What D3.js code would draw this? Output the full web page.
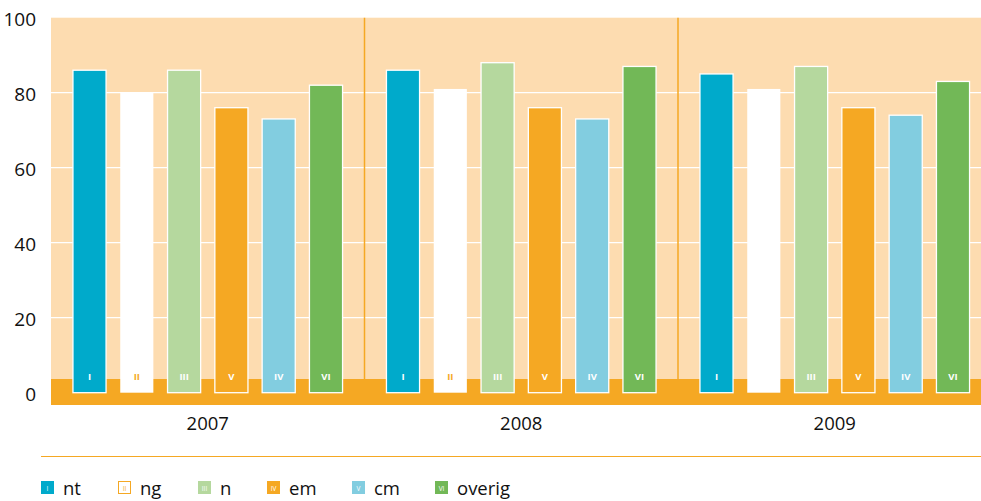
<!DOCTYPE html>
<html><head><meta charset="utf-8">
<script src="https://cdn.jsdelivr.net/npm/d3@7/dist/d3.min.js"></script>
<style>body{margin:0;background:#fff}svg{display:block;font-family:"Open Sans","Noto Sans",sans-serif}</style>
</head><body><svg id="c" width="981" height="501"></svg>
<script>
const years = ["2007","2008","2009"];
const series = ["nt","ng","n","em","cm","overig"];
const values2007 = [86,80,86,76,73,82];
const values2008 = [86,81,88,76,73,87];
const values2009 = [85,81,87,76,74,83];
const barLabels = ["I","II","III","V","IV","VI"];
const legendLabels = ["I","II","III","IV","V","VI"];
const yTicks = [0,20,40,60,80,100];
const colors = ["#00aacb","#ffffff","#b5d89e","#f5a823","#82cde0","#72b857"];
const allValues = [values2007, values2008, values2009];

const svg = d3.select("#c");
const left = 51, groupW = 313.5;
const y = d3.scaleLinear().domain([0,100]).range([392.7,17.7]);
const x0 = d3.scaleBand().domain(years).range([left, left+groupW*3]);
const x1 = d3.scaleBand().domain(series).range([0, groupW]).paddingInner(0.3).paddingOuter(0.464);

// background
svg.append("rect").attr("x",left).attr("y",y(100)).attr("width",981-left).attr("height",y(0)-y(100)).attr("fill","#fddcb0");
// gridlines
svg.selectAll("line.grid").data(yTicks.filter(d=>d>0&&d<100)).join("line")
  .attr("x1",left).attr("x2",981).attr("y1",d=>y(d)).attr("y2",d=>y(d))
  .attr("stroke","#fff").attr("stroke-width",1.3);
// separators
svg.selectAll("line.sep").data(years.slice(1)).join("line")
  .attr("x1",d=>x0(d)).attr("x2",d=>x0(d)).attr("y1",y(100)).attr("y2",380)
  .attr("stroke","#f5a823").attr("stroke-width",1.5);
// bottom band
svg.append("rect").attr("x",left).attr("y",379).attr("width",981-left).attr("height",26).attr("fill","#f5a823");

// bars
years.forEach((yr,gi)=>{
  const g = svg.append("g").attr("transform",`translate(${x0(yr)},0)`);
  const vals = allValues[gi];
  g.selectAll("rect").data(series).join("rect")
    .attr("x",d=>x1(d)).attr("width",x1.bandwidth())
    .attr("y",(d,i)=>y(vals[i])).attr("height",(d,i)=>y(0)-y(vals[i]))
    .attr("fill",(d,i)=>colors[i])
    .attr("stroke",(d,i)=>i===1?"none":"#fff").attr("stroke-width",1.3);
  g.selectAll("text").data(series).join("text")
    .attr("x",d=>x1(d)+x1.bandwidth()/2).attr("y",379.5)
    .attr("text-anchor","middle").attr("font-size",9.5).attr("font-weight","bold")
    .attr("fill",(d,i)=>i===1?"#f5a823":"#fff")
    .text((d,i)=> (gi===2&&i===1)?"":barLabels[i]);
});

// y axis labels
svg.selectAll("text.yl").data(yTicks).join("text").attr("class","yl")
  .attr("x",36).attr("y",d=>y(d)+8.5).attr("text-anchor","end")
  .attr("font-size",19).attr("fill","#111").text(d=>d);
// year labels
svg.selectAll("text.xl").data(years).join("text").attr("class","xl")
  .attr("x",d=>x0(d)+groupW/2).attr("y",430).attr("text-anchor","middle")
  .attr("font-size",18.5).attr("fill","#111").text(d=>d);

// legend line
svg.append("line").attr("x1",41).attr("x2",981).attr("y1",456.5).attr("y2",456.5).attr("stroke","#f5a823").attr("stroke-width",1.2);
const legX = [41,118,198,267,352,435];
series.forEach((s,i)=>{
  const g = svg.append("g").attr("transform",`translate(${legX[i]},481)`);
  g.append("rect").attr("x",i===1?0.5:0).attr("y",i===1?0.5:0).attr("width",i===1?12:13).attr("height",i===1?12:13)
    .attr("fill",colors[i]).attr("stroke",i===1?"#f5a823":"none");
  g.append("text").attr("x",6.5).attr("y",9.5).attr("text-anchor","middle").attr("font-size",6.5)
    .attr("fill",i===1?"#f5a823":"#fff").text(legendLabels[i]);
  g.append("text").attr("x",22).attr("y",14).attr("font-size",18.5).attr("fill","#111").text(s);
});
</script></body></html>
